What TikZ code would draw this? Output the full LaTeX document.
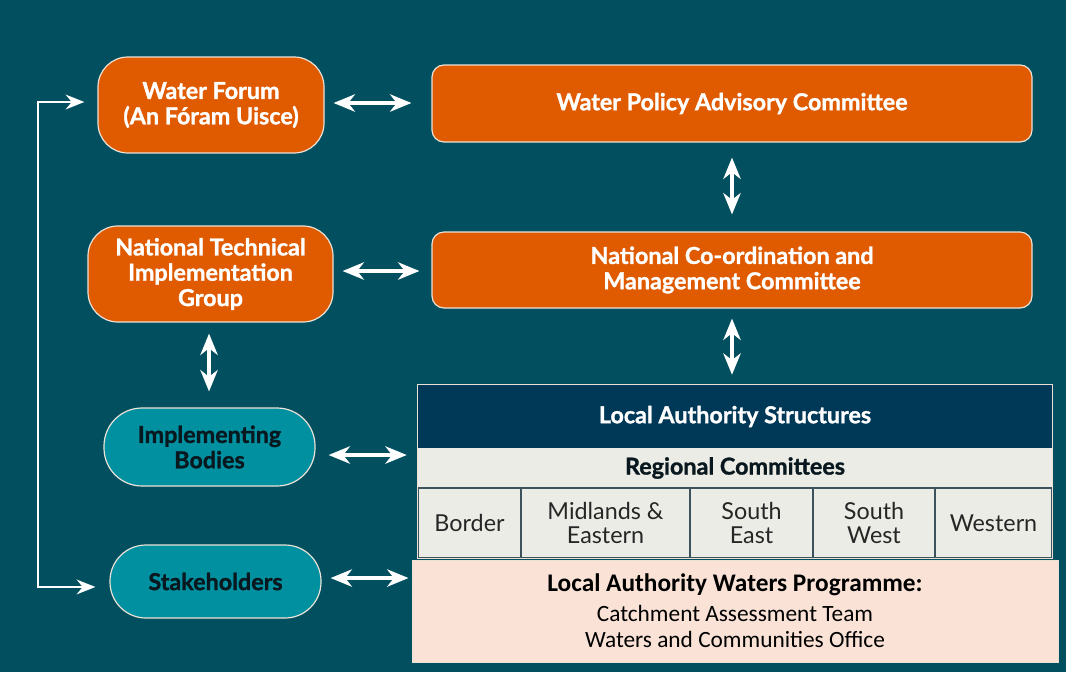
\documentclass[tikz,border=0pt]{standalone}
\usepackage{fontspec}
\setmainfont{Lato}
\newfontfamily\hvy{Lato}[BoldFeatures={FakeBold=1.2}]
\newfontfamily\calib{Carlito}
\usetikzlibrary{arrows.meta}
\definecolor{bgc}{RGB}{2,80,95}
\definecolor{orng}{RGB}{224,90,0}
\definecolor{tealc}{RGB}{0,144,160}
\definecolor{navy}{RGB}{0,56,88}
\definecolor{lgray}{RGB}{236,236,230}
\definecolor{peach}{RGB}{250,227,214}
\definecolor{cellline}{RGB}{60,82,92}
\definecolor{edge}{RGB}{235,225,215}
\definecolor{inkdark}{RGB}{8,24,30}
\begin{document}
\begin{tikzpicture}[x=0.75pt,y=-0.75pt,
  box/.style={draw=edge, line width=0.9pt, inner sep=0pt, align=center,
    font=\hvy\bfseries\fontsize{17.5}{19}\selectfont},
  ornode/.style={box, fill=orng, text=white},
  tlnode/.style={box, fill=tealc, text=inkdark},
  cell/.style={draw=cellline, line width=0.9pt, fill=lgray, inner sep=0pt,
    align=center, minimum height=52.5pt, text=black!85,
    font=\fontsize{17.5}{18}\selectfont},
  dbl/.style={draw=white, line width=2.6pt,
    {Stealth[length=16pt,width=13pt,inset=5pt]}-{Stealth[length=16pt,width=13pt,inset=5pt]}},
  loopline/.style={draw=white, line width=2pt,
    {Stealth[length=14pt,width=11pt,inset=4.5pt]}-{Stealth[length=14pt,width=11pt,inset=4.5pt]}}
]
\fill[bgc] (0,0) rectangle (1066,672);
\useasboundingbox (0,0) rectangle (1066,672);

% national level
\node[ornode, rounded corners=22.5pt, minimum width=169.5pt, minimum height=72pt]
  (wf) at (211,105) {Water Forum\\(An Fóram Uisce)};
\node[ornode, rounded corners=9pt, minimum width=450pt, minimum height=57.75pt]
  (wpac) at (732,103.5) {Water Policy Advisory Committee};
\node[ornode, rounded corners=22.5pt, minimum width=183.75pt, minimum height=72pt]
  (ntig) at (210.5,274) {National Technical\\Implementation\\Group};
\node[ornode, rounded corners=9pt, minimum width=450pt, minimum height=57pt]
  (ncmc) at (732,270) {National Co-ordination and\\Management Committee};

% implementing side
\node[tlnode, rounded corners=28.5pt, minimum width=158.25pt, minimum height=58.5pt]
  (ib) at (209.5,447) {Implementing\\Bodies};
\node[tlnode, rounded corners=27pt, minimum width=158.25pt, minimum height=54.75pt]
  (stake) at (215.5,581.5) {Stakeholders};

% local authority structures table
\node[fill=navy, text=white, inner sep=0pt, minimum width=475.5pt, minimum height=47.25pt,
  font=\hvy\bfseries\fontsize{17.5}{19}\selectfont] (hdr) at (735,416.5) {Local Authority Structures};
\node[fill=lgray, text=inkdark, inner sep=0pt, minimum width=475.5pt, minimum height=30pt,
  font=\hvy\bfseries\fontsize{17.5}{19}\selectfont] (reg) at (735,468) {Regional Committees};
\node[cell, minimum width=77.25pt] (border) at (469.5,523) {Border};
\node[cell, minimum width=126.75pt] (mid) at (605.5,523) {Midlands \&\\Eastern};
\node[cell, minimum width=92.25pt] (se) at (751.5,523) {South\\East};
\node[cell, minimum width=91.5pt] (sw) at (874,523) {South\\West};
\node[cell, minimum width=87.75pt] (west) at (993.5,523) {Western};
\draw[edge, line width=0.9pt] (hdr.north west) rectangle (west.south east);
\node[fill=peach, draw=edge, line width=0.75pt, inner sep=0pt, minimum width=484.5pt,
  minimum height=76.5pt, align=center, text=black,
  font=\calib\fontsize{17.5}{20}\selectfont] (lawp) at (735,611)
  {{\bfseries\fontsize{19}{20}\selectfont Local Authority Waters Programme:}\\[2pt]
   Catchment Assessment Team\\Waters and Communities Office};

% two-way links
\draw[dbl, shorten <=6.75pt, shorten >=15pt] ([yshift=1.5pt]wf.east) -- ([yshift=1.5pt]wf.east -| wpac.west);
\draw[dbl, shorten <=6.75pt, shorten >=9pt] ([yshift=2.25pt]ntig.east) -- ([yshift=2.25pt]ntig.east -| ncmc.west);
\draw[dbl, shorten <=9.75pt, shorten >=8.25pt] ([yshift=-6pt]ib.east) -- ([yshift=-6pt]ib.east -| reg.west);
\draw[dbl, shorten <=6.75pt, shorten >=2.25pt] ([yshift=2.6pt]stake.east) -- ([yshift=2.6pt]stake.east -| lawp.west);
\draw[dbl, shorten <=11.25pt, shorten >=12.75pt] (wpac.south) -- (ncmc.north);
\draw[dbl, shorten <=7.5pt, shorten >=7.5pt] (ncmc.south) -- (ncmc.south |- hdr.north);
\draw[dbl, shorten <=8.25pt, shorten >=12pt] ([xshift=-1.1pt]ntig.south) -- ([xshift=-1.1pt]ntig.south |- ib.north);

% feedback loop between stakeholders and the forum
\coordinate (loop) at (38,400);
\draw[loopline] ([xshift=-9.75pt,yshift=2.25pt]wf.west) -| (loop)
  |- ([xshift=-10.5pt,yshift=-4.1pt]stake.west);
\end{tikzpicture}
\end{document}
